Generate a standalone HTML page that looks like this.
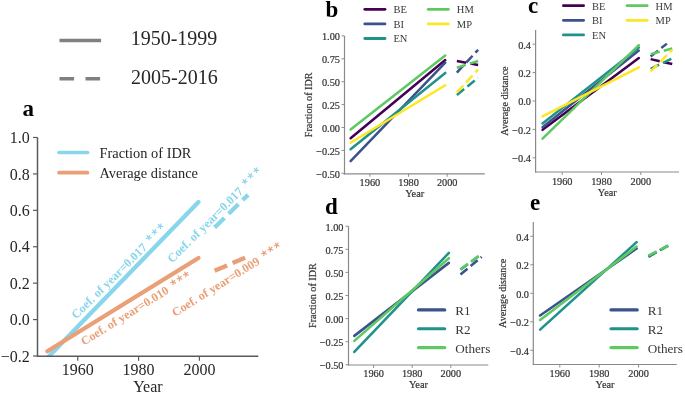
<!DOCTYPE html><html><head><meta charset="utf-8"><style>html,body{margin:0;padding:0;background:#fff;width:685px;height:394px;overflow:hidden}svg{display:block}text{font-family:"Liberation Serif",serif}text[fill="#333333"]{stroke:#333333;stroke-width:.2px}</style></head><body>
<svg style="will-change:transform" width="685" height="394" viewBox="0 0 685 394">
<rect width="685" height="394" fill="#fff"/>
<line x1="59.50" y1="40.50" x2="101.10" y2="40.50" stroke="#808080" stroke-width="3.4" stroke-linecap="butt" />
<line x1="59.50" y1="78.80" x2="101.10" y2="78.80" stroke="#808080" stroke-width="3.4" stroke-linecap="butt" stroke-dasharray="14.6 11.4" />
<text x="130.70" y="45.00" font-size="20" text-anchor="start" font-weight="normal" fill="#262626" >1950-1999</text>
<text x="131.00" y="84.20" font-size="20" text-anchor="start" font-weight="normal" fill="#262626" >2005-2016</text>
<clipPath id="ca"><rect x="37.5" y="117.47999999999999" width="220.8" height="238.52"/></clipPath>
<g clip-path="url(#ca)">
<line x1="47.35" y1="358.00" x2="198.49" y2="201.94" stroke="#89D5EB" stroke-width="4.3" stroke-linecap="round" />
<line x1="214.61" y1="227.44" x2="248.06" y2="194.84" stroke="#89D5EB" stroke-width="4.3" stroke-linecap="butt" stroke-dasharray="13.6 6" />
<line x1="47.35" y1="351.27" x2="198.49" y2="258.03" stroke="#EA9F76" stroke-width="4.3" stroke-linecap="round" />
<line x1="214.61" y1="270.78" x2="248.06" y2="256.39" stroke="#EA9F76" stroke-width="4.3" stroke-linecap="butt" stroke-dasharray="13.6 6" />
</g>
<line x1="37.50" y1="137.48" x2="37.50" y2="356.75" stroke="#5a5a5a" stroke-width="1.5" stroke-linecap="butt" />
<line x1="36.75" y1="356.30" x2="258.30" y2="356.30" stroke="#5a5a5a" stroke-width="1.5" stroke-linecap="butt" />
<line x1="33.00" y1="356.00" x2="37.50" y2="356.00" stroke="#5a5a5a" stroke-width="1.2000000000000002" stroke-linecap="butt" />
<text x="29.80" y="361.72" font-size="16" text-anchor="end" font-weight="normal" fill="#262626" >−0.2</text>
<line x1="33.00" y1="319.58" x2="37.50" y2="319.58" stroke="#5a5a5a" stroke-width="1.2000000000000002" stroke-linecap="butt" />
<text x="29.80" y="325.30" font-size="16" text-anchor="end" font-weight="normal" fill="#262626" >0.0</text>
<line x1="33.00" y1="283.16" x2="37.50" y2="283.16" stroke="#5a5a5a" stroke-width="1.2000000000000002" stroke-linecap="butt" />
<text x="29.80" y="288.88" font-size="16" text-anchor="end" font-weight="normal" fill="#262626" >0.2</text>
<line x1="33.00" y1="246.74" x2="37.50" y2="246.74" stroke="#5a5a5a" stroke-width="1.2000000000000002" stroke-linecap="butt" />
<text x="29.80" y="252.46" font-size="16" text-anchor="end" font-weight="normal" fill="#262626" >0.4</text>
<line x1="33.00" y1="210.32" x2="37.50" y2="210.32" stroke="#5a5a5a" stroke-width="1.2000000000000002" stroke-linecap="butt" />
<text x="29.80" y="216.04" font-size="16" text-anchor="end" font-weight="normal" fill="#262626" >0.6</text>
<line x1="33.00" y1="173.90" x2="37.50" y2="173.90" stroke="#5a5a5a" stroke-width="1.2000000000000002" stroke-linecap="butt" />
<text x="29.80" y="179.62" font-size="16" text-anchor="end" font-weight="normal" fill="#262626" >0.8</text>
<line x1="33.00" y1="137.48" x2="37.50" y2="137.48" stroke="#5a5a5a" stroke-width="1.2000000000000002" stroke-linecap="butt" />
<text x="29.80" y="143.20" font-size="16" text-anchor="end" font-weight="normal" fill="#262626" >1.0</text>
<line x1="77.76" y1="356.30" x2="77.76" y2="360.80" stroke="#5a5a5a" stroke-width="1.2000000000000002" stroke-linecap="butt" />
<text x="77.76" y="374.70" font-size="16" text-anchor="middle" font-weight="normal" fill="#262626" >1960</text>
<line x1="138.58" y1="356.30" x2="138.58" y2="360.80" stroke="#5a5a5a" stroke-width="1.2000000000000002" stroke-linecap="butt" />
<text x="138.58" y="374.70" font-size="16" text-anchor="middle" font-weight="normal" fill="#262626" >1980</text>
<line x1="199.40" y1="356.30" x2="199.40" y2="360.80" stroke="#5a5a5a" stroke-width="1.2000000000000002" stroke-linecap="butt" />
<text x="199.40" y="374.70" font-size="16" text-anchor="middle" font-weight="normal" fill="#262626" >2000</text>
<text x="147.90" y="391.50" font-size="16" text-anchor="middle" font-weight="normal" fill="#262626" >Year</text>
<line x1="59.00" y1="152.50" x2="87.50" y2="152.50" stroke="#89D5EB" stroke-width="3.7" stroke-linecap="round" />
<line x1="59.00" y1="172.70" x2="87.50" y2="172.70" stroke="#EA9F76" stroke-width="3.7" stroke-linecap="round" />
<text x="99.50" y="157.70" font-size="14.4" text-anchor="start" font-weight="normal" fill="#262626" >Fraction of IDR</text>
<text x="99.50" y="177.90" font-size="14.4" text-anchor="start" font-weight="normal" fill="#262626" >Average distance</text>
<text x="22.50" y="116.30" font-size="23" text-anchor="start" font-weight="bold" fill="#000" >a</text>
<g transform="translate(76.17,319.62) rotate(-44.9)">
<text x="0" y="0" font-size="12.2" font-weight="bold" fill="#89D5EB" class="ann">Coef. of year=0.017</text>
<path d="M109.40 -6.95L109.40 -9.45M109.40 -6.95L111.78 -7.72M109.40 -6.95L110.87 -4.93M109.40 -6.95L107.93 -4.93M109.40 -6.95L107.02 -7.72M117.40 -6.95L117.40 -9.45M117.40 -6.95L119.78 -7.72M117.40 -6.95L118.87 -4.93M117.40 -6.95L115.93 -4.93M117.40 -6.95L115.02 -7.72M125.40 -6.95L125.40 -9.45M125.40 -6.95L127.78 -7.72M125.40 -6.95L126.87 -4.93M125.40 -6.95L123.93 -4.93M125.40 -6.95L123.02 -7.72" stroke="#89D5EB" stroke-width="1.15" stroke-linecap="round" fill="none"/>
</g>
<g transform="translate(83.92,345.81) rotate(-31.85)">
<text x="0" y="0" font-size="12.2" font-weight="bold" fill="#EA9F76" class="ann">Coef. of year=0.010</text>
<path d="M109.40 -6.95L109.40 -9.45M109.40 -6.95L111.78 -7.72M109.40 -6.95L110.87 -4.93M109.40 -6.95L107.93 -4.93M109.40 -6.95L107.02 -7.72M116.90 -6.95L116.90 -9.45M116.90 -6.95L119.28 -7.72M116.90 -6.95L118.37 -4.93M116.90 -6.95L115.43 -4.93M116.90 -6.95L114.52 -7.72M124.40 -6.95L124.40 -9.45M124.40 -6.95L126.78 -7.72M124.40 -6.95L125.87 -4.93M124.40 -6.95L122.93 -4.93M124.40 -6.95L122.02 -7.72" stroke="#EA9F76" stroke-width="1.15" stroke-linecap="round" fill="none"/>
</g>
<g transform="translate(172.17,263.52) rotate(-44.9)">
<text x="0" y="0" font-size="12.2" font-weight="bold" fill="#89D5EB" class="ann">Coef. of year=0.017</text>
<path d="M109.40 -6.95L109.40 -9.45M109.40 -6.95L111.78 -7.72M109.40 -6.95L110.87 -4.93M109.40 -6.95L107.93 -4.93M109.40 -6.95L107.02 -7.72M117.40 -6.95L117.40 -9.45M117.40 -6.95L119.78 -7.72M117.40 -6.95L118.87 -4.93M117.40 -6.95L115.93 -4.93M117.40 -6.95L115.02 -7.72M125.40 -6.95L125.40 -9.45M125.40 -6.95L127.78 -7.72M125.40 -6.95L126.87 -4.93M125.40 -6.95L123.93 -4.93M125.40 -6.95L123.02 -7.72" stroke="#89D5EB" stroke-width="1.15" stroke-linecap="round" fill="none"/>
</g>
<g transform="translate(174.94,317.02) rotate(-32.05)">
<text x="0" y="0" font-size="12.2" font-weight="bold" fill="#EA9F76" class="ann">Coef. of year=0.009</text>
<path d="M109.40 -6.95L109.40 -9.45M109.40 -6.95L111.78 -7.72M109.40 -6.95L110.87 -4.93M109.40 -6.95L107.93 -4.93M109.40 -6.95L107.02 -7.72M116.90 -6.95L116.90 -9.45M116.90 -6.95L119.28 -7.72M116.90 -6.95L118.37 -4.93M116.90 -6.95L115.43 -4.93M116.90 -6.95L114.52 -7.72M124.40 -6.95L124.40 -9.45M124.40 -6.95L126.78 -7.72M124.40 -6.95L125.87 -4.93M124.40 -6.95L122.93 -4.93M124.40 -6.95L122.02 -7.72" stroke="#EA9F76" stroke-width="1.15" stroke-linecap="round" fill="none"/>
</g>
<line x1="350.60" y1="138.22" x2="445.27" y2="59.99" stroke="#440154" stroke-width="2.5" stroke-linecap="round" />
<line x1="456.86" y1="61.00" x2="478.11" y2="64.94" stroke="#440154" stroke-width="2.5" stroke-linecap="butt" stroke-dasharray="9.4 4.2" />
<line x1="350.60" y1="161.21" x2="445.27" y2="62.74" stroke="#3b528b" stroke-width="2.5" stroke-linecap="round" />
<line x1="456.86" y1="72.54" x2="478.11" y2="49.82" stroke="#3b528b" stroke-width="2.5" stroke-linecap="butt" stroke-dasharray="9.4 4.2" />
<line x1="350.60" y1="149.30" x2="445.27" y2="72.91" stroke="#21918c" stroke-width="2.5" stroke-linecap="round" />
<line x1="456.86" y1="94.98" x2="478.11" y2="77.76" stroke="#21918c" stroke-width="2.5" stroke-linecap="butt" stroke-dasharray="9.4 4.2" />
<line x1="350.60" y1="129.52" x2="445.27" y2="55.59" stroke="#5ec962" stroke-width="2.5" stroke-linecap="round" />
<line x1="456.86" y1="67.78" x2="478.11" y2="61.00" stroke="#5ec962" stroke-width="2.5" stroke-linecap="butt" stroke-dasharray="9.4 4.2" />
<line x1="350.60" y1="142.80" x2="445.27" y2="85.27" stroke="#fde725" stroke-width="2.5" stroke-linecap="round" />
<line x1="456.86" y1="92.42" x2="478.11" y2="69.61" stroke="#fde725" stroke-width="2.5" stroke-linecap="butt" stroke-dasharray="9.4 4.2" />
<line x1="344.50" y1="35.90" x2="344.50" y2="174.40" stroke="#8a8a8a" stroke-width="1.2" stroke-linecap="butt" />
<line x1="343.90" y1="173.80" x2="484.80" y2="173.80" stroke="#8a8a8a" stroke-width="1.2" stroke-linecap="butt" />
<line x1="341.50" y1="173.30" x2="344.50" y2="173.30" stroke="#8a8a8a" stroke-width="0.96" stroke-linecap="butt" />
<text x="340.00" y="177.65" font-size="10.3" text-anchor="end" font-weight="normal" fill="#333333" >−0.50</text>
<line x1="341.50" y1="150.40" x2="344.50" y2="150.40" stroke="#8a8a8a" stroke-width="0.96" stroke-linecap="butt" />
<text x="340.00" y="154.75" font-size="10.3" text-anchor="end" font-weight="normal" fill="#333333" >−0.25</text>
<line x1="341.50" y1="127.50" x2="344.50" y2="127.50" stroke="#8a8a8a" stroke-width="0.96" stroke-linecap="butt" />
<text x="340.00" y="131.85" font-size="10.3" text-anchor="end" font-weight="normal" fill="#333333" >0.00</text>
<line x1="341.50" y1="104.60" x2="344.50" y2="104.60" stroke="#8a8a8a" stroke-width="0.96" stroke-linecap="butt" />
<text x="340.00" y="108.95" font-size="10.3" text-anchor="end" font-weight="normal" fill="#333333" >0.25</text>
<line x1="341.50" y1="81.70" x2="344.50" y2="81.70" stroke="#8a8a8a" stroke-width="0.96" stroke-linecap="butt" />
<text x="340.00" y="86.05" font-size="10.3" text-anchor="end" font-weight="normal" fill="#333333" >0.50</text>
<line x1="341.50" y1="58.80" x2="344.50" y2="58.80" stroke="#8a8a8a" stroke-width="0.96" stroke-linecap="butt" />
<text x="340.00" y="63.15" font-size="10.3" text-anchor="end" font-weight="normal" fill="#333333" >0.75</text>
<line x1="341.50" y1="35.90" x2="344.50" y2="35.90" stroke="#8a8a8a" stroke-width="0.96" stroke-linecap="butt" />
<text x="340.00" y="40.25" font-size="10.3" text-anchor="end" font-weight="normal" fill="#333333" >1.00</text>
<line x1="369.92" y1="173.80" x2="369.92" y2="176.80" stroke="#8a8a8a" stroke-width="0.96" stroke-linecap="butt" />
<text x="369.92" y="185.90" font-size="10.3" text-anchor="middle" font-weight="normal" fill="#333333" >1960</text>
<line x1="408.56" y1="173.80" x2="408.56" y2="176.80" stroke="#8a8a8a" stroke-width="0.96" stroke-linecap="butt" />
<text x="408.56" y="185.90" font-size="10.3" text-anchor="middle" font-weight="normal" fill="#333333" >1980</text>
<line x1="447.20" y1="173.80" x2="447.20" y2="176.80" stroke="#8a8a8a" stroke-width="0.96" stroke-linecap="butt" />
<text x="447.20" y="185.90" font-size="10.3" text-anchor="middle" font-weight="normal" fill="#333333" >2000</text>
<text x="414.65" y="196.70" font-size="10.3" text-anchor="middle" font-weight="normal" fill="#333333" >Year</text>
<text x="0.00" y="0.00" font-size="10.15" text-anchor="middle" font-weight="normal" fill="#333333" transform="translate(312.30,104.85) rotate(-90)" >Fraction of IDR</text>
<line x1="364.80" y1="9.30" x2="385.00" y2="9.30" stroke="#440154" stroke-width="2.8" stroke-linecap="round" />
<text x="393.40" y="13.10" font-size="10.5" text-anchor="start" font-weight="normal" fill="#383838" >BE</text>
<line x1="364.80" y1="23.90" x2="385.00" y2="23.90" stroke="#3b528b" stroke-width="2.8" stroke-linecap="round" />
<text x="393.40" y="27.70" font-size="10.5" text-anchor="start" font-weight="normal" fill="#383838" >BI</text>
<line x1="364.80" y1="38.50" x2="385.00" y2="38.50" stroke="#21918c" stroke-width="2.8" stroke-linecap="round" />
<text x="393.40" y="42.30" font-size="10.5" text-anchor="start" font-weight="normal" fill="#383838" >EN</text>
<line x1="428.20" y1="9.30" x2="448.40" y2="9.30" stroke="#5ec962" stroke-width="2.8" stroke-linecap="round" />
<text x="456.80" y="13.10" font-size="10.5" text-anchor="start" font-weight="normal" fill="#383838" >HM</text>
<line x1="428.20" y1="23.90" x2="448.40" y2="23.90" stroke="#fde725" stroke-width="2.8" stroke-linecap="round" />
<text x="456.80" y="27.70" font-size="10.5" text-anchor="start" font-weight="normal" fill="#383838" >MP</text>
<text x="325.50" y="16.60" font-size="23" text-anchor="start" font-weight="bold" fill="#000" >b</text>
<line x1="542.55" y1="129.83" x2="638.83" y2="58.12" stroke="#440154" stroke-width="2.5" stroke-linecap="round" />
<line x1="650.62" y1="59.11" x2="672.24" y2="64.08" stroke="#440154" stroke-width="2.5" stroke-linecap="butt" stroke-dasharray="9.4 4.2" />
<line x1="542.55" y1="127.27" x2="638.83" y2="50.45" stroke="#3b528b" stroke-width="2.5" stroke-linecap="round" />
<line x1="650.62" y1="56.41" x2="666.93" y2="43.63" stroke="#3b528b" stroke-width="2.5" stroke-linecap="butt" stroke-dasharray="9.4 4.2" />
<line x1="542.55" y1="123.44" x2="638.83" y2="47.61" stroke="#21918c" stroke-width="2.5" stroke-linecap="round" />
<line x1="650.62" y1="68.77" x2="672.24" y2="58.40" stroke="#21918c" stroke-width="2.5" stroke-linecap="butt" stroke-dasharray="9.4 4.2" />
<line x1="542.55" y1="138.63" x2="638.83" y2="45.05" stroke="#5ec962" stroke-width="2.5" stroke-linecap="round" />
<line x1="650.62" y1="54.14" x2="672.24" y2="48.46" stroke="#5ec962" stroke-width="2.5" stroke-linecap="butt" stroke-dasharray="9.4 4.2" />
<line x1="542.55" y1="116.48" x2="638.83" y2="67.35" stroke="#fde725" stroke-width="2.5" stroke-linecap="round" />
<line x1="650.62" y1="71.46" x2="672.24" y2="49.88" stroke="#fde725" stroke-width="2.5" stroke-linecap="butt" stroke-dasharray="9.4 4.2" />
<line x1="535.60" y1="30.00" x2="535.60" y2="172.60" stroke="#8a8a8a" stroke-width="1.2" stroke-linecap="butt" />
<line x1="535.00" y1="172.00" x2="679.00" y2="172.00" stroke="#8a8a8a" stroke-width="1.2" stroke-linecap="butt" />
<line x1="532.60" y1="157.80" x2="535.60" y2="157.80" stroke="#8a8a8a" stroke-width="0.96" stroke-linecap="butt" />
<text x="531.00" y="162.15" font-size="10.3" text-anchor="end" font-weight="normal" fill="#333333" >−0.4</text>
<line x1="532.60" y1="129.40" x2="535.60" y2="129.40" stroke="#8a8a8a" stroke-width="0.96" stroke-linecap="butt" />
<text x="531.00" y="133.75" font-size="10.3" text-anchor="end" font-weight="normal" fill="#333333" >−0.2</text>
<line x1="532.60" y1="101.00" x2="535.60" y2="101.00" stroke="#8a8a8a" stroke-width="0.96" stroke-linecap="butt" />
<text x="531.00" y="105.35" font-size="10.3" text-anchor="end" font-weight="normal" fill="#333333" >0.0</text>
<line x1="532.60" y1="72.60" x2="535.60" y2="72.60" stroke="#8a8a8a" stroke-width="0.96" stroke-linecap="butt" />
<text x="531.00" y="76.95" font-size="10.3" text-anchor="end" font-weight="normal" fill="#333333" >0.2</text>
<line x1="532.60" y1="44.20" x2="535.60" y2="44.20" stroke="#8a8a8a" stroke-width="0.96" stroke-linecap="butt" />
<text x="531.00" y="48.55" font-size="10.3" text-anchor="end" font-weight="normal" fill="#333333" >0.4</text>
<line x1="562.20" y1="172.00" x2="562.20" y2="175.00" stroke="#8a8a8a" stroke-width="0.96" stroke-linecap="butt" />
<text x="562.20" y="184.50" font-size="10.3" text-anchor="middle" font-weight="normal" fill="#333333" >1960</text>
<line x1="601.50" y1="172.00" x2="601.50" y2="175.00" stroke="#8a8a8a" stroke-width="0.96" stroke-linecap="butt" />
<text x="601.50" y="184.50" font-size="10.3" text-anchor="middle" font-weight="normal" fill="#333333" >1980</text>
<line x1="640.80" y1="172.00" x2="640.80" y2="175.00" stroke="#8a8a8a" stroke-width="0.96" stroke-linecap="butt" />
<text x="640.80" y="184.50" font-size="10.3" text-anchor="middle" font-weight="normal" fill="#333333" >2000</text>
<text x="607.30" y="196.00" font-size="10.3" text-anchor="middle" font-weight="normal" fill="#333333" >Year</text>
<text x="0.00" y="0.00" font-size="10.15" text-anchor="middle" font-weight="normal" fill="#333333" transform="translate(508.00,101.00) rotate(-90)" >Average distance</text>
<line x1="563.40" y1="5.70" x2="583.60" y2="5.70" stroke="#440154" stroke-width="2.8" stroke-linecap="round" />
<text x="592.00" y="9.50" font-size="10.5" text-anchor="start" font-weight="normal" fill="#383838" >BE</text>
<line x1="563.40" y1="20.30" x2="583.60" y2="20.30" stroke="#3b528b" stroke-width="2.8" stroke-linecap="round" />
<text x="592.00" y="24.10" font-size="10.5" text-anchor="start" font-weight="normal" fill="#383838" >BI</text>
<line x1="563.40" y1="34.90" x2="583.60" y2="34.90" stroke="#21918c" stroke-width="2.8" stroke-linecap="round" />
<text x="592.00" y="38.70" font-size="10.5" text-anchor="start" font-weight="normal" fill="#383838" >EN</text>
<line x1="627.00" y1="5.70" x2="647.20" y2="5.70" stroke="#5ec962" stroke-width="2.8" stroke-linecap="round" />
<text x="655.60" y="9.50" font-size="10.5" text-anchor="start" font-weight="normal" fill="#383838" >HM</text>
<line x1="627.00" y1="20.30" x2="647.20" y2="20.30" stroke="#fde725" stroke-width="2.8" stroke-linecap="round" />
<text x="655.60" y="24.10" font-size="10.5" text-anchor="start" font-weight="normal" fill="#383838" >MP</text>
<text x="528.00" y="13.30" font-size="23" text-anchor="start" font-weight="bold" fill="#000" >c</text>
<line x1="354.30" y1="335.88" x2="448.87" y2="262.88" stroke="#3b528b" stroke-width="2.55" stroke-linecap="round" />
<line x1="460.45" y1="274.53" x2="481.68" y2="256.88" stroke="#3b528b" stroke-width="2.55" stroke-linecap="butt" stroke-dasharray="9.2 4" />
<line x1="354.30" y1="351.96" x2="448.87" y2="252.90" stroke="#21918c" stroke-width="2.55" stroke-linecap="round" />
<line x1="460.45" y1="269.63" x2="481.68" y2="253.92" stroke="#21918c" stroke-width="2.55" stroke-linecap="butt" stroke-dasharray="9.2 4" />
<line x1="354.30" y1="340.87" x2="448.87" y2="258.17" stroke="#5ec962" stroke-width="2.55" stroke-linecap="round" />
<line x1="460.45" y1="269.17" x2="481.68" y2="254.01" stroke="#5ec962" stroke-width="2.55" stroke-linecap="butt" stroke-dasharray="9.2 4" />
<line x1="348.50" y1="226.20" x2="348.50" y2="365.60" stroke="#8a8a8a" stroke-width="1.2" stroke-linecap="butt" />
<line x1="347.90" y1="365.00" x2="488.30" y2="365.00" stroke="#8a8a8a" stroke-width="1.2" stroke-linecap="butt" />
<line x1="345.50" y1="364.80" x2="348.50" y2="364.80" stroke="#8a8a8a" stroke-width="0.96" stroke-linecap="butt" />
<text x="343.50" y="369.15" font-size="10.3" text-anchor="end" font-weight="normal" fill="#333333" >−0.50</text>
<line x1="345.50" y1="341.70" x2="348.50" y2="341.70" stroke="#8a8a8a" stroke-width="0.96" stroke-linecap="butt" />
<text x="343.50" y="346.05" font-size="10.3" text-anchor="end" font-weight="normal" fill="#333333" >−0.25</text>
<line x1="345.50" y1="318.60" x2="348.50" y2="318.60" stroke="#8a8a8a" stroke-width="0.96" stroke-linecap="butt" />
<text x="343.50" y="322.95" font-size="10.3" text-anchor="end" font-weight="normal" fill="#333333" >0.00</text>
<line x1="345.50" y1="295.50" x2="348.50" y2="295.50" stroke="#8a8a8a" stroke-width="0.96" stroke-linecap="butt" />
<text x="343.50" y="299.85" font-size="10.3" text-anchor="end" font-weight="normal" fill="#333333" >0.25</text>
<line x1="345.50" y1="272.40" x2="348.50" y2="272.40" stroke="#8a8a8a" stroke-width="0.96" stroke-linecap="butt" />
<text x="343.50" y="276.75" font-size="10.3" text-anchor="end" font-weight="normal" fill="#333333" >0.50</text>
<line x1="345.50" y1="249.30" x2="348.50" y2="249.30" stroke="#8a8a8a" stroke-width="0.96" stroke-linecap="butt" />
<text x="343.50" y="253.65" font-size="10.3" text-anchor="end" font-weight="normal" fill="#333333" >0.75</text>
<line x1="345.50" y1="226.20" x2="348.50" y2="226.20" stroke="#8a8a8a" stroke-width="0.96" stroke-linecap="butt" />
<text x="343.50" y="230.55" font-size="10.3" text-anchor="end" font-weight="normal" fill="#333333" >1.00</text>
<line x1="373.60" y1="365.00" x2="373.60" y2="368.00" stroke="#8a8a8a" stroke-width="0.96" stroke-linecap="butt" />
<text x="373.60" y="377.20" font-size="10.3" text-anchor="middle" font-weight="normal" fill="#333333" >1960</text>
<line x1="412.20" y1="365.00" x2="412.20" y2="368.00" stroke="#8a8a8a" stroke-width="0.96" stroke-linecap="butt" />
<text x="412.20" y="377.20" font-size="10.3" text-anchor="middle" font-weight="normal" fill="#333333" >1980</text>
<line x1="450.80" y1="365.00" x2="450.80" y2="368.00" stroke="#8a8a8a" stroke-width="0.96" stroke-linecap="butt" />
<text x="450.80" y="377.20" font-size="10.3" text-anchor="middle" font-weight="normal" fill="#333333" >2000</text>
<text x="418.40" y="388.20" font-size="10.3" text-anchor="middle" font-weight="normal" fill="#333333" >Year</text>
<text x="0.00" y="0.00" font-size="10.15" text-anchor="middle" font-weight="normal" fill="#333333" transform="translate(316.00,295.60) rotate(-90)" >Fraction of IDR</text>
<line x1="418.50" y1="309.90" x2="444.70" y2="309.90" stroke="#3b528b" stroke-width="3.2" stroke-linecap="round" />
<text x="455.20" y="314.80" font-size="13.2" text-anchor="start" font-weight="normal" fill="#383838" >R1</text>
<line x1="418.50" y1="328.75" x2="444.70" y2="328.75" stroke="#21918c" stroke-width="3.2" stroke-linecap="round" />
<text x="455.20" y="333.65" font-size="13.2" text-anchor="start" font-weight="normal" fill="#383838" >R2</text>
<line x1="418.50" y1="347.60" x2="444.70" y2="347.60" stroke="#5ec962" stroke-width="3.2" stroke-linecap="round" />
<text x="455.20" y="352.50" font-size="13.2" text-anchor="start" font-weight="normal" fill="#383838" >Others</text>
<text x="325.00" y="213.60" font-size="23" text-anchor="start" font-weight="bold" fill="#000" >d</text>
<line x1="540.10" y1="315.53" x2="636.63" y2="248.56" stroke="#3b528b" stroke-width="2.55" stroke-linecap="round" />
<line x1="648.45" y1="256.96" x2="670.12" y2="244.14" stroke="#3b528b" stroke-width="2.55" stroke-linecap="butt" stroke-dasharray="9.2 4" />
<line x1="540.10" y1="329.64" x2="636.63" y2="242.14" stroke="#21918c" stroke-width="2.55" stroke-linecap="round" />
<line x1="648.45" y1="256.25" x2="670.12" y2="244.85" stroke="#21918c" stroke-width="2.55" stroke-linecap="butt" stroke-dasharray="9.2 4" />
<line x1="540.10" y1="319.95" x2="636.63" y2="246.56" stroke="#5ec962" stroke-width="2.55" stroke-linecap="round" />
<line x1="648.45" y1="255.54" x2="670.12" y2="244.71" stroke="#5ec962" stroke-width="2.55" stroke-linecap="butt" stroke-dasharray="9.2 4" />
<line x1="533.30" y1="222.05" x2="533.30" y2="365.10" stroke="#8a8a8a" stroke-width="1.2" stroke-linecap="butt" />
<line x1="532.70" y1="364.50" x2="676.80" y2="364.50" stroke="#8a8a8a" stroke-width="1.2" stroke-linecap="butt" />
<line x1="530.30" y1="350.30" x2="533.30" y2="350.30" stroke="#8a8a8a" stroke-width="0.96" stroke-linecap="butt" />
<text x="529.00" y="354.65" font-size="10.3" text-anchor="end" font-weight="normal" fill="#333333" >−0.4</text>
<line x1="530.30" y1="321.80" x2="533.30" y2="321.80" stroke="#8a8a8a" stroke-width="0.96" stroke-linecap="butt" />
<text x="529.00" y="326.15" font-size="10.3" text-anchor="end" font-weight="normal" fill="#333333" >−0.2</text>
<line x1="530.30" y1="293.30" x2="533.30" y2="293.30" stroke="#8a8a8a" stroke-width="0.96" stroke-linecap="butt" />
<text x="529.00" y="297.65" font-size="10.3" text-anchor="end" font-weight="normal" fill="#333333" >0.0</text>
<line x1="530.30" y1="264.80" x2="533.30" y2="264.80" stroke="#8a8a8a" stroke-width="0.96" stroke-linecap="butt" />
<text x="529.00" y="269.15" font-size="10.3" text-anchor="end" font-weight="normal" fill="#333333" >0.2</text>
<line x1="530.30" y1="236.30" x2="533.30" y2="236.30" stroke="#8a8a8a" stroke-width="0.96" stroke-linecap="butt" />
<text x="529.00" y="240.65" font-size="10.3" text-anchor="end" font-weight="normal" fill="#333333" >0.4</text>
<line x1="559.80" y1="364.50" x2="559.80" y2="367.50" stroke="#8a8a8a" stroke-width="0.96" stroke-linecap="butt" />
<text x="559.80" y="377.00" font-size="10.3" text-anchor="middle" font-weight="normal" fill="#333333" >1960</text>
<line x1="599.20" y1="364.50" x2="599.20" y2="367.50" stroke="#8a8a8a" stroke-width="0.96" stroke-linecap="butt" />
<text x="599.20" y="377.00" font-size="10.3" text-anchor="middle" font-weight="normal" fill="#333333" >1980</text>
<line x1="638.60" y1="364.50" x2="638.60" y2="367.50" stroke="#8a8a8a" stroke-width="0.96" stroke-linecap="butt" />
<text x="638.60" y="377.00" font-size="10.3" text-anchor="middle" font-weight="normal" fill="#333333" >2000</text>
<text x="605.05" y="388.10" font-size="10.3" text-anchor="middle" font-weight="normal" fill="#333333" >Year</text>
<text x="0.00" y="0.00" font-size="10.15" text-anchor="middle" font-weight="normal" fill="#333333" transform="translate(506.30,293.27) rotate(-90)" >Average distance</text>
<line x1="611.00" y1="309.90" x2="637.20" y2="309.90" stroke="#3b528b" stroke-width="3.2" stroke-linecap="round" />
<text x="647.70" y="314.80" font-size="13.2" text-anchor="start" font-weight="normal" fill="#383838" >R1</text>
<line x1="611.00" y1="328.75" x2="637.20" y2="328.75" stroke="#21918c" stroke-width="3.2" stroke-linecap="round" />
<text x="647.70" y="333.65" font-size="13.2" text-anchor="start" font-weight="normal" fill="#383838" >R2</text>
<line x1="611.00" y1="347.60" x2="637.20" y2="347.60" stroke="#5ec962" stroke-width="3.2" stroke-linecap="round" />
<text x="647.70" y="352.50" font-size="13.2" text-anchor="start" font-weight="normal" fill="#383838" >Others</text>
<text x="530.00" y="209.50" font-size="23" text-anchor="start" font-weight="bold" fill="#000" >e</text>
</svg></body></html>
